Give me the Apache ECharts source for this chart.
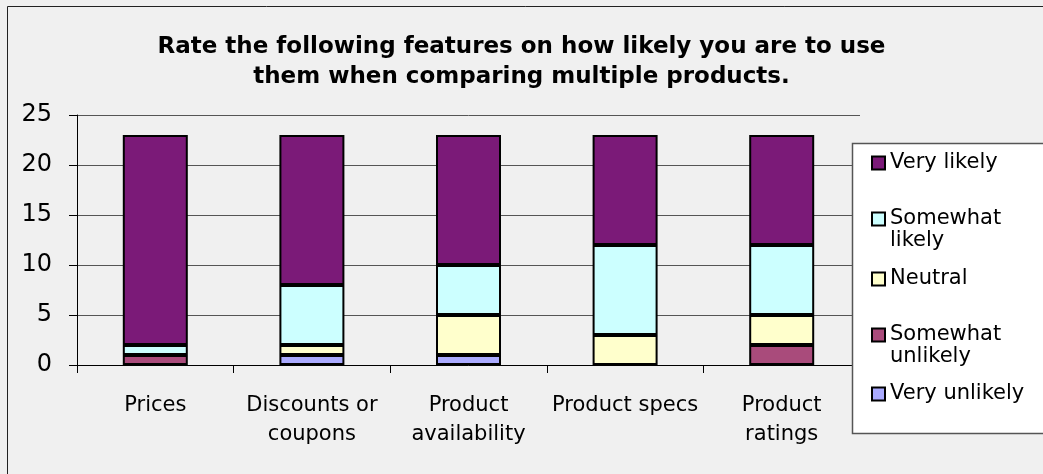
<!DOCTYPE html>
<html>
<head>
<meta charset="utf-8">
<script src="https://cdn.jsdelivr.net/npm/echarts@6/dist/echarts.min.js"></script>
<style>
html,body{margin:0;padding:0;background:#f0f0f0;}
#c{width:1043px;height:474px;}
</style>
</head>
<body>
<div id="c"></div>
<script>
const titleText = 'Rate the following features on how likely you are to use\nthem when comparing multiple products.';
const categories = ['Prices', 'Discounts or\ncoupons', 'Product\navailability', 'Product specs', 'Product\nratings'];
const seriesNames = ['Very unlikely', 'Somewhat unlikely', 'Neutral', 'Somewhat likely', 'Very likely'];
const veryUnlikely = [0, 1, 1, 0, 0];
const somewhatUnlikely = [1, 0, 0, 0, 2];
const neutral = [0, 1, 4, 3, 3];
const somewhatLikely = [1, 6, 5, 9, 7];
const veryLikely = [21, 15, 13, 11, 11];
const yTicks = [0, 5, 10, 15, 20, 25];

const colors = ['#aaaaff', '#a94b7b', '#ffffcc', '#ccffff', '#7b1a78'];
const values = [veryUnlikely, somewhatUnlikely, neutral, somewhatLikely, veryLikely];
const FONT = '"DejaVu Sans", Verdana, sans-serif';

const series = seriesNames.map((n, i) => ({
  name: n,
  type: 'bar',
  stack: 'total',
  barWidth: 65,
  data: values[i].map(v => v === 0 ? '-' : v),
  itemStyle: { color: colors[i], borderColor: '#000', borderWidth: 2 }
}));

// legend entries, top to bottom (center of first text line)
const legendOrder = [
  { name: 'Very likely', label: 'Very likely', center: 163 },
  { name: 'Somewhat likely', label: '\nSomewhat\nlikely', center: 220 },
  { name: 'Neutral', label: 'Neutral', center: 279 },
  { name: 'Somewhat unlikely', label: '\nSomewhat\nunlikely', center: 336 },
  { name: 'Very unlikely', label: 'Very unlikely', center: 394 }
];
const legends = legendOrder.map(l => {
  const two = l.label.indexOf('\n') >= 0;
  return {
    data: [l.name],
    left: 871,
    top: two ? l.center - 34 : l.center - 11,
    orient: 'vertical',
    padding: 0,
    icon: 'rect',
    itemWidth: 13,
    itemHeight: 13,
    selectedMode: false,
    itemStyle: { borderColor: '#000', borderWidth: 2 },
    formatter: () => l.label,
    textStyle: {
      fontFamily: FONT, fontSize: 21, color: '#000', lineHeight: 22
    }
  };
});

const chart = echarts.init(document.getElementById('c'));
chart.setOption({
  backgroundColor: '#f0f0f0',
  animation: false,
  title: {
    text: titleText,
    left: 'center',
    top: 27,
    textStyle: { fontFamily: FONT, fontSize: 23, fontWeight: 'bold', color: '#000', lineHeight: 30 }
  },
  graphic: [
    { type: 'rect', z: 0, shape: { x: 7.5, y: 6.5, width: 1100, height: 600 },
      style: { fill: 'none', stroke: '#222', lineWidth: 1 } },
    { type: 'rect', z: 3, shape: { x: 852.5, y: 143.5, width: 300, height: 290 },
      style: { fill: '#ffffff', stroke: '#555', lineWidth: 1.5 } }
  ],
  legend: legends,
  grid: { left: 77, right: 183, top: 115, bottom: 109, containLabel: false },
  xAxis: {
    type: 'category',
    data: categories,
    axisLine: { lineStyle: { color: '#000', width: 1 } },
    axisTick: { show: true, length: 8, lineStyle: { color: '#000' } },
    axisLabel: { fontFamily: FONT, fontSize: 21, color: '#000', margin: 26, lineHeight: 29, interval: 0 }
  },
  yAxis: {
    type: 'value',
    min: 0, max: 25, interval: 5,
    axisLine: { show: true, lineStyle: { color: '#000', width: 1 } },
    axisTick: { show: true, inside: false, length: 8, lineStyle: { color: '#000' } },
    axisLabel: { fontFamily: FONT, fontSize: 24, color: '#000', margin: 25,
      formatter: v => yTicks.includes(v) ? String(v) : '' },
    splitLine: { show: true, lineStyle: { color: '#555', width: 1 } }
  },
  series: series
});
</script>
</body>
</html>
